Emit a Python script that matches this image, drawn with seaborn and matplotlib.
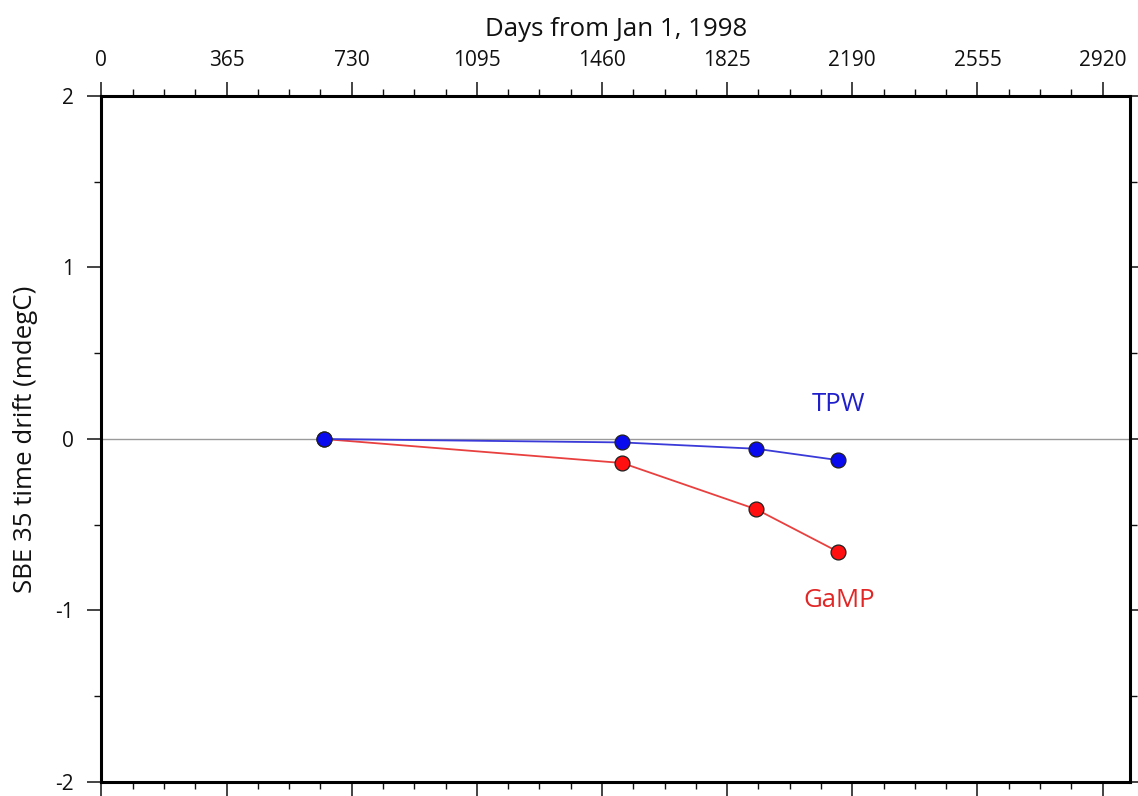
import matplotlib
matplotlib.use("Agg")
import matplotlib.pyplot as plt
from matplotlib.ticker import MultipleLocator
import numpy as np
import pandas as pd
import seaborn as sns

# Calibration dates (days since Jan 1, 1998) and drift for each standard
days = [648, 1519, 1910, 2148]
tpw_drift = [0.0, -0.02, -0.057, -0.123]
gamp_drift = [0.0, -0.14, -0.41, -0.657]
series_names = ["GaMP", "TPW"]
x_ticks = [0, 365, 730, 1095, 1460, 1825, 2190, 2555, 2920]
y_ticks = [-2, -1, 0, 1, 2]

df = pd.DataFrame({
    "days": days * 2,
    "drift": gamp_drift + tpw_drift,
    "standard": ["GaMP"] * len(days) + ["TPW"] * len(days),
})

sns.set_theme(style="white")
plt.rcParams["font.family"] = ["Open Sans", "DejaVu Sans"]
plt.rcParams["axes.unicode_minus"] = False

fig = plt.figure(figsize=(11.38, 7.96), dpi=100)
ax = fig.add_axes([0.0891, 0.0176, 0.9039, 0.8618])

line_colors = {"GaMP": "#e8403f", "TPW": "#3a3ad8"}
face_colors = {"GaMP": "#ff0f0f", "TPW": "#0a0aee"}

ax.axhline(0, color="#9a9a9a", lw=1.0, zorder=1)

for name in series_names:
    sub = df[df["standard"] == name]
    sns.lineplot(data=sub, x="days", y="drift", ax=ax, color=line_colors[name],
                 lw=1.3, zorder=2, legend=False)
    sns.scatterplot(data=sub, x="days", y="drift", ax=ax, color=face_colors[name],
                    s=115, edgecolor="#202020", linewidth=0.9, zorder=3, legend=False)

ax.text(2151, 0.2, "TPW", color="#1f1fcc", fontsize=18.5, ha="center", va="center")
ax.text(2151, -0.94, "GaMP", color="#e22626", fontsize=18.5, ha="center", va="center")

ax.set_xlim(0, 3000)
ax.set_ylim(-2, 2)
ax.set_xticks(x_ticks)
ax.xaxis.set_minor_locator(MultipleLocator(365 / 4))
ax.set_yticks(y_ticks)
ax.yaxis.set_minor_locator(MultipleLocator(0.5))

ax.xaxis.set_ticks_position("both")
ax.yaxis.set_ticks_position("both")
ax.tick_params(axis="x", which="both", top=True, bottom=True,
               labeltop=True, labelbottom=False, direction="out")
ax.tick_params(axis="y", which="both", left=True, right=True,
               labelleft=True, labelright=False, direction="out")
ax.tick_params(which="major", length=10, width=1.1, labelsize=15,
               colors="#111111")
ax.tick_params(axis="x", which="major", pad=8)
ax.tick_params(axis="y", which="major", pad=10)
ax.tick_params(which="minor", length=5, width=1.0, colors="#111111")

ax.xaxis.set_label_position("top")
ax.set_xlabel("Days from Jan 1, 1998", fontsize=18.6, labelpad=10, color="#111111")
ax.set_ylabel("SBE 35 time drift (mdegC)", fontsize=18.6, labelpad=12, color="#111111")

for sp in ax.spines.values():
    sp.set_visible(True)
    sp.set_color("black")
    sp.set_linewidth(2.2)

fig.savefig("out.png", dpi=100, facecolor="white")
